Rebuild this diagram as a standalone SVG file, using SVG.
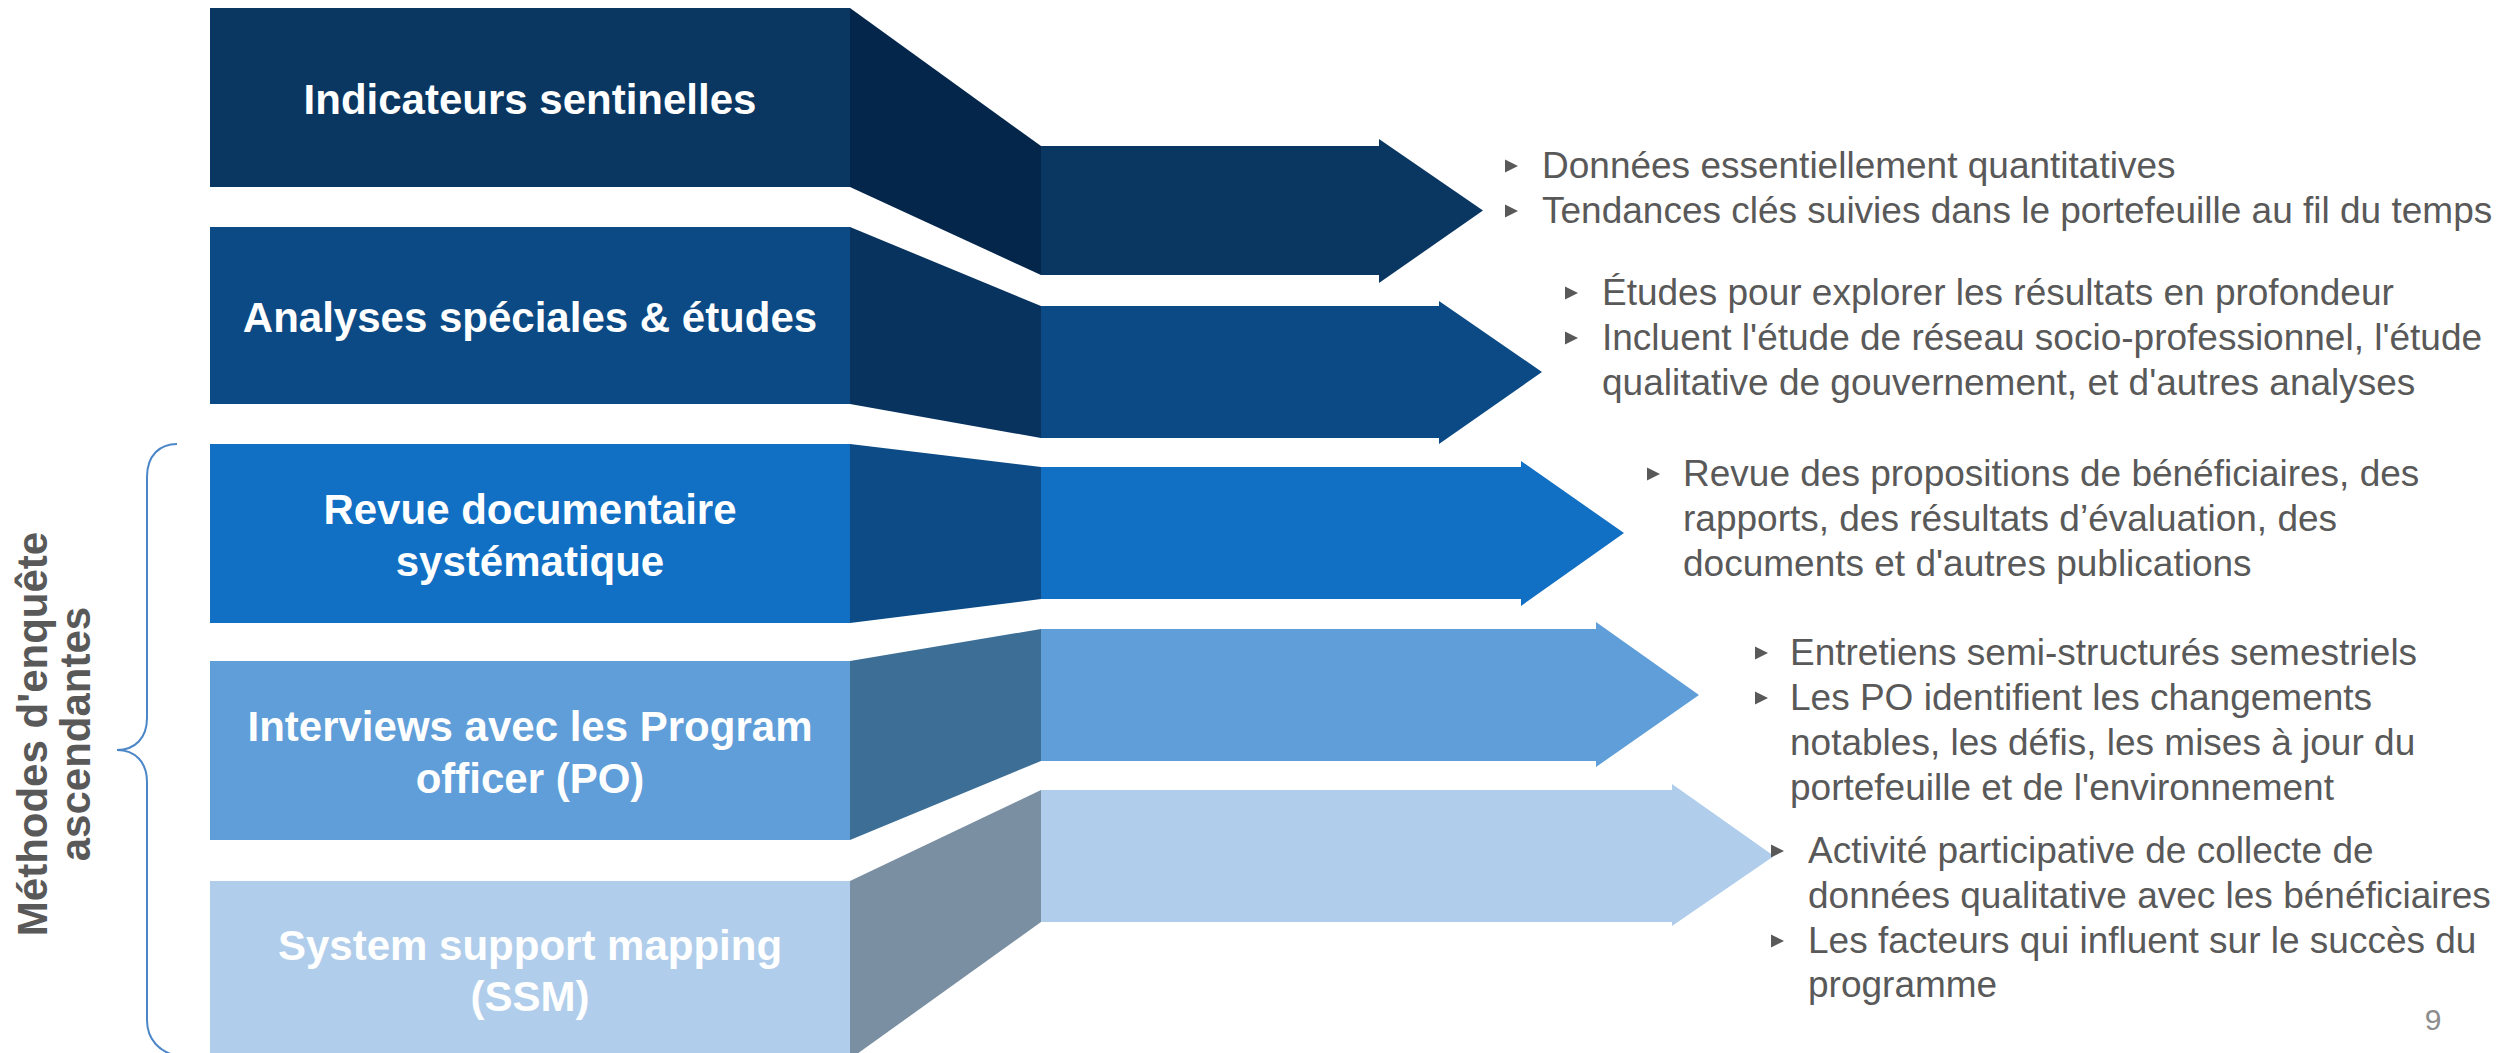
<svg xmlns="http://www.w3.org/2000/svg" xmlns:xlink="http://www.w3.org/1999/xlink" width="2511" height="1053" viewBox="0 0 2511 1053">
  <style>
    .lbl { font-family: "Liberation Sans", Arial, sans-serif; font-weight: bold; font-size: 42px; fill: #ffffff; text-anchor: middle; }
    .side { font-family: "Liberation Sans", Arial, sans-serif; font-weight: bold; font-size: 42px; fill: #595959; text-anchor: middle; }
    .txt { font-family: "Liberation Sans", Arial, sans-serif; font-size: 37px; fill: #595959; }
    .pg { font-family: "Liberation Sans", Arial, sans-serif; font-size: 30px; fill: #8c8c8c; text-anchor: middle; }
    .c1 { fill: #0a3761; } .f1 { fill: #03264a; }
    .c2 { fill: #0b4a84; } .f2 { fill: #08335e; }
    .c3 { fill: #116fc4; } .f3 { fill: #0c4b86; }
    .c4 { fill: #5f9ed8; } .f4 { fill: #3d6f96; }
    .c5 { fill: #b0ceeb; } .f5 { fill: #7b8fa3; }
    .brace { fill: none; stroke: #4a86c8; stroke-width: 2; }
  </style>
  <defs>
    <polygon id="bullet" points="0,-6.5 13,0 0,6.5" fill="#595959"/>
  </defs>
  <rect width="2511" height="1053" fill="#ffffff"/>

  <!-- side label with brace -->
  <g id="side-label">
    <path class="brace" d="M177,444 C160,444 147,455 147,477 L147,718 C147,738 135,750 117,750 C135,750 147,762 147,782 L147,1020 C147,1040 160,1052 177,1056"/>
    <text class="side" transform="translate(47,734) rotate(-90)">Méthodes d'enquête</text>
    <text class="side" transform="translate(90,734) rotate(-90)">ascendantes</text>
  </g>

  <!-- funnels and arrows -->
  <g id="connectors">
    <polygon class="f1" points="850,8 1041,146 1041,275 850,187"/>
    <polygon class="c1" points="1041,146 1379,146 1379,139 1483,210.5 1379,283 1379,275 1041,275"/>
    <polygon class="f2" points="850,227 1041,306 1041,438 850,404"/>
    <polygon class="c2" points="1041,306 1439,306 1439,301 1542,372 1439,444 1439,438 1041,438"/>
    <polygon class="f3" points="850,444 1041,467 1041,599 850,623"/>
    <polygon class="c3" points="1041,467 1521,467 1521,461 1624,533 1521,606 1521,599 1041,599"/>
    <polygon class="f4" points="850,661 1041,629 1041,761 850,840"/>
    <polygon class="c4" points="1041,629 1596,629 1596,622 1699,695 1596,767 1596,761 1041,761"/>
    <polygon class="f5" points="850,881 1041,790 1041,922 850,1059"/>
    <polygon class="c5" points="1041,790 1672,790 1672,784 1774,856 1672,926 1672,922 1041,922"/>
  </g>

  <!-- method boxes -->
  <g id="node-indicateurs">
    <rect class="c1" x="210" y="8" width="640" height="179"/>
    <text class="lbl" x="530" y="114">Indicateurs sentinelles</text>
  </g>
  <g id="node-analyses">
    <rect class="c2" x="210" y="227" width="640" height="177"/>
    <text class="lbl" x="530" y="332">Analyses spéciales &amp; études</text>
  </g>
  <g id="node-revue">
    <rect class="c3" x="210" y="444" width="640" height="179"/>
    <text class="lbl" x="530" y="524">Revue documentaire</text>
    <text class="lbl" x="530" y="576">systématique</text>
  </g>
  <g id="node-interviews">
    <rect class="c4" x="210" y="661" width="640" height="179"/>
    <text class="lbl" x="530" y="741">Interviews avec les Program</text>
    <text class="lbl" x="530" y="793">officer (PO)</text>
  </g>
  <g id="node-ssm">
    <rect class="c5" x="210" y="881" width="640" height="179"/>
    <text class="lbl" x="530" y="960">System support mapping</text>
    <text class="lbl" x="530" y="1011">(SSM)</text>
  </g>

  <!-- descriptions -->
  <g id="desc-indicateurs">
    <use xlink:href="#bullet" x="1505" y="166"/>
    <use xlink:href="#bullet" x="1505" y="211"/>
    <text class="txt" x="1542" y="178">Données essentiellement quantitatives</text>
    <text class="txt" x="1542" y="223">Tendances clés suivies dans le portefeuille au fil du temps</text>
  </g>
  <g id="desc-analyses">
    <use xlink:href="#bullet" x="1565" y="293"/>
    <use xlink:href="#bullet" x="1565" y="338"/>
    <text class="txt" x="1602" y="305">Études pour explorer les résultats en profondeur</text>
    <text class="txt" x="1602" y="350">Incluent l'étude de réseau socio-professionnel, l'étude</text>
    <text class="txt" x="1602" y="395">qualitative de gouvernement, et d'autres analyses</text>
  </g>
  <g id="desc-revue">
    <use xlink:href="#bullet" x="1647" y="474"/>
    <text class="txt" x="1683" y="486">Revue des propositions de bénéficiaires, des</text>
    <text class="txt" x="1683" y="531">rapports, des résultats d’évaluation, des</text>
    <text class="txt" x="1683" y="576">documents et d'autres publications</text>
  </g>
  <g id="desc-interviews">
    <use xlink:href="#bullet" x="1755" y="653"/>
    <use xlink:href="#bullet" x="1755" y="698"/>
    <text class="txt" x="1790" y="665">Entretiens semi-structurés semestriels</text>
    <text class="txt" x="1790" y="710">Les PO identifient les changements</text>
    <text class="txt" x="1790" y="755">notables, les défis, les mises à jour du</text>
    <text class="txt" x="1790" y="800">portefeuille et de l'environnement</text>
  </g>
  <g id="desc-ssm">
    <use xlink:href="#bullet" x="1771" y="851"/>
    <use xlink:href="#bullet" x="1771" y="941"/>
    <text class="txt" x="1808" y="863">Activité participative de collecte de</text>
    <text class="txt" x="1808" y="908">données qualitative avec les bénéficiaires</text>
    <text class="txt" x="1808" y="953">Les facteurs qui influent sur le succès du</text>
    <text class="txt" x="1808" y="997">programme</text>
  </g>

  <text class="pg" x="2433" y="1030">9</text>
</svg>
